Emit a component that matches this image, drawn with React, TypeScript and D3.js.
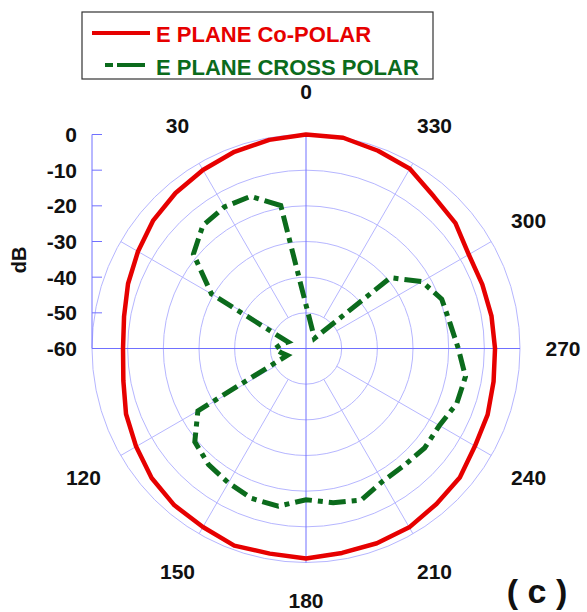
import React from 'react';
import * as d3 from 'd3';

// E plane co-polar, one value every 10 deg (0..350), dB
const coAngles = d3.range(0, 360, 10);
const coDb = [0, -0.6, -1.3, -2.2, -3.1, -4.1, -5.6, -6.9, -8.2, -8.7, -8.0, -6.3, -5.0, -3.5, -2.6, -2.2, -1.2, -1.6,
  -1.1, -1.8, -1.9, -2.1, -3.1, -3.7, -5.3, -5.8, -6.6, -7.0, -7.2, -7.4, -7.3, -5.3, -4.3, -1.8, -1.0, 0];

// E plane cross polar, 10 .. 320 deg, closes back to 10
const xpAngles = d3.range(10, 330, 10);
const xpDb = [-19.3, -14.6, -14.2, -15.0, -18.8, -29.4, -54.6, -53.0, -51.3, -53.0, -54.4, -25.0, -19.3, -17.5,
  -16.5, -15.3, -15.1, -17.6, -16.1, -14.8, -17.0, -17.2, -16.6, -16.8, -15.0, -14.6, -17.3, -19.0, -19.5,
  -22.5, -29.1, -56.3];

const dbTicks = [0, -10, -20, -30, -40, -50, -60];
const ringDb = [-50, -40, -30, -20, -10, 0];
const spokeAngles = [30, 60, 120, 150, 210, 240, 300, 330];
const angleLabels = [0, 30, 120, 150, 180, 210, 240, 270, 300, 330];

const cx = 306;
const cy = 348.5;
const R = 214;
const font = 'Arial, "Liberation Sans", sans-serif';

const rScale = d3.scaleLinear().domain([-60, 0]).range([0, R]);
// plot angles run counter-clockwise from the top
const toRad = (deg: number) => (-deg * Math.PI) / 180;
const px = (deg: number, r: number) => cx - r * Math.sin((deg * Math.PI) / 180);
const py = (deg: number, r: number) => cy - r * Math.cos((deg * Math.PI) / 180);

const radial = d3.lineRadial<[number, number]>()
  .angle((d) => toRad(d[0]))
  .radius((d) => rScale(d[1]))
  .curve(d3.curveLinearClosed);

const coPath = radial(coAngles.map((a, i) => [a, coDb[i]] as [number, number])) || '';
const xpPath = radial(xpAngles.map((a, i) => [a, xpDb[i]] as [number, number])) || '';

const gridColor = '#b6b6ff';
const axisColor = '#7070ff';
const red = '#e60000';
const green = '#0b6b1c';

export default function App() {
  return (
    <svg width={587} height={612} style={{ position: 'absolute', left: 0, top: 0 }}>
      <rect width={587} height={612} fill="#fff" />

      {/* legend */}
      <rect x={82} y={12} width={351} height={67} fill="#fff" stroke="#333" strokeWidth={1.2} />
      <line x1={92} x2={150} y1={33} y2={33} stroke={red} strokeWidth={4} />
      <text x={156} y={41.5} fontFamily={font} fontWeight="bold" fontSize={22} fill={red}>E PLANE Co-POLAR</text>
      <path d="M105,65H145" stroke={green} strokeWidth={4} strokeDasharray="8,4,28" />
      <text x={156} y={74.5} fontFamily={font} fontWeight="bold" fontSize={22} fill={green}>E PLANE CROSS POLAR</text>

      {/* rings */}
      {ringDb.map((d) => (
        <circle key={d} cx={cx} cy={cy} r={rScale(d)} fill="none" stroke={gridColor} strokeWidth={1} />
      ))}
      {/* spokes from the first ring outwards */}
      {spokeAngles.map((a) => (
        <line key={a} x1={px(a, rScale(-50))} y1={py(a, rScale(-50))} x2={px(a, R)} y2={py(a, R)}
          stroke={gridColor} strokeWidth={1} />
      ))}
      {/* main axes */}
      <line x1={cx - R} x2={cx + R} y1={cy} y2={cy} stroke={axisColor} strokeWidth={1} />
      <line x1={cx} x2={cx} y1={cy - R} y2={cy + R} stroke={axisColor} strokeWidth={1} />

      {/* dB axis */}
      <line x1={cx - R} x2={cx - R} y1={cy - R} y2={cy} stroke={axisColor} strokeWidth={1} />
      {dbTicks.map((d) => {
        const y = cy - rScale(d);
        return (
          <g key={d}>
            <line x1={cx - R} x2={cx - R + 10} y1={y} y2={y} stroke={axisColor} strokeWidth={1} />
            <text x={77} y={y} dy="0.36em" textAnchor="end" fontFamily={font} fontWeight="bold" fontSize={21}
              fill="#111">{d}</text>
          </g>
        );
      })}
      <text transform="translate(26,260) rotate(-90)" textAnchor="middle" fontFamily={font} fontWeight="bold"
        fontSize={20} fill="#111">dB</text>

      {/* angle labels */}
      {angleLabels.map((a) => {
        const r = a === 180 ? 252 : 257;
        return (
          <text key={a} x={px(a, r)} y={py(a, r)} dy="0.36em" textAnchor="middle" fontFamily={font}
            fontWeight="bold" fontSize={21} fill="#111">{a}</text>
        );
      })}

      {/* data */}
      <path d={coPath} transform={`translate(${cx},${cy})`} fill="none" stroke={red} strokeWidth={4.5}
        strokeLinejoin="round" />
      <path d={xpPath} transform={`translate(${cx},${cy})`} fill="none" stroke={green} strokeWidth={5}
        strokeDasharray="17,6,5,6" />

      <text x={537} y={603} textAnchor="middle" fontFamily={font} fontWeight="bold" fontSize={34} fill="#111"
        xmlSpace="preserve">( c )</text>
    </svg>
  );
}
